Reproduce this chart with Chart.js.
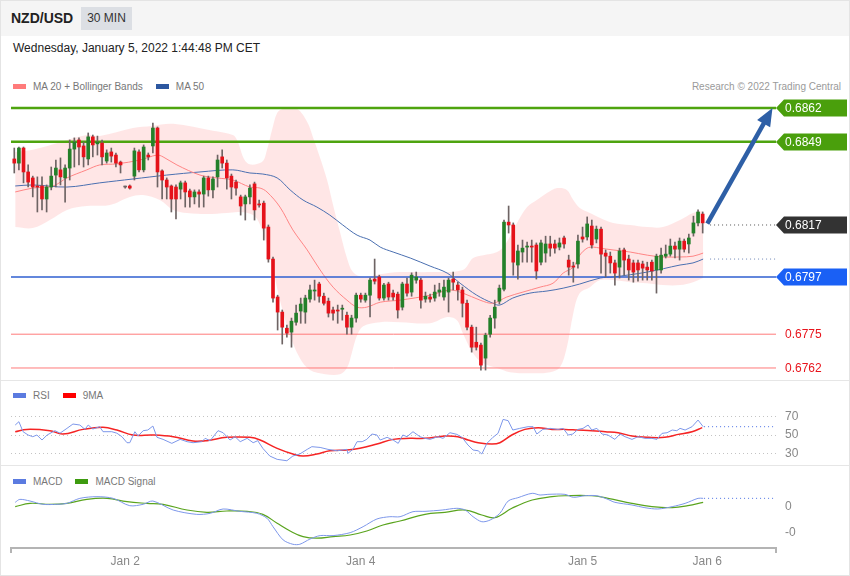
<!DOCTYPE html>
<html>
<head>
<meta charset="utf-8">
<title>NZD/USD 30 MIN</title>
<script src="https://cdn.jsdelivr.net/npm/chart.js@4.4.1/dist/chart.umd.min.js"></script>
<style>
  body { margin: 0; width: 850px; height: 576px; position: relative; overflow: hidden;
         font-family: "Liberation Sans", Arial, sans-serif; background: #fff; }
  #frame { position: absolute; left: 0; top: 0; width: 848px; height: 574px; border: 1px solid #e4e4e4; }
  #head { position: absolute; left: 1px; top: 1px; width: 848px; height: 35px; background: #f5f5f5; }
  #pair { position: absolute; left: 11px; top: 10px; font-size: 14px; font-weight: bold; color: #222; }
  #tf { position: absolute; left: 81px; top: 7px; width: 51px; height: 23px; line-height: 23px; text-align: center;
        background: #dcdfe4; font-size: 12px; color: #333; }
  #date { position: absolute; left: 13px; top: 41px; font-size: 12px; color: #222; }
  .legend { position: absolute; left: 13px; font-size: 10px; color: #777; white-space: nowrap; }
  .legend span.sw { display: inline-block; width: 13px; height: 5px; vertical-align: middle; margin-right: 7px; position: relative; top: -1px; }
  .legend span.lb { margin-right: 13px; }
  #credit { position: absolute; right: 9px; top: 81px; font-size: 10px; color: #9a9a9a; }
  .sep { position: absolute; left: 1px; width: 848px; height: 1px; background: #e6e6e6; }
  canvas { position: absolute; left: 0; }
</style>
</head>
<body>
<div id="frame"></div>
<div id="head"></div>
<div id="pair">NZD/USD</div>
<div id="tf">30 MIN</div>
<div id="date">Wednesday, January 5, 2022 1:44:48 PM CET</div>
<div class="legend" style="top:81px"><span class="sw" style="background:#ff7b7b"></span><span class="lb">MA 20 + Bollinger Bands</span><span class="sw" style="background:#2c57a0"></span><span>MA 50</span></div>
<div id="credit">Research © 2022 Trading Central</div>
<canvas id="price-chart" width="850" height="320" style="top:60px"></canvas>
<div class="sep" style="top:380px"></div>
<div class="legend" style="top:390px"><span class="sw" style="background:#5b7be0"></span><span class="lb">RSI</span><span class="sw" style="background:#ff0000"></span><span>9MA</span></div>
<canvas id="rsi-chart" width="850" height="84" style="top:381px"></canvas>
<div class="sep" style="top:465px"></div>
<div class="legend" style="top:476px"><span class="sw" style="background:#5b7be0"></span><span class="lb">MACD</span><span class="sw" style="background:#3d9b0f"></span><span>MACD Signal</span></div>
<canvas id="macd-chart" width="850" height="110" style="top:466px"></canvas>

<script>
(function() {
  'use strict';

  // 30 minute candles, oldest first
  const opens = [
    0.68424, 0.68408, 0.68466, 0.68374, 0.68351, 0.68320, 0.68320, 0.68270, 0.68316, 0.68362,
    0.68382, 0.68351, 0.68389, 0.68462, 0.68497, 0.68474, 0.68424, 0.68509, 0.68482, 0.68485,
    0.68416, 0.68451, 0.68439, 0.68412, 0.68316, 0.68320, 0.68358, 0.68451, 0.68382, 0.68439,
    0.68474, 0.68543, 0.68378, 0.68343, 0.68320, 0.68316, 0.68308, 0.68332, 0.68301, 0.68278,
    0.68297, 0.68289, 0.68351, 0.68305, 0.68355, 0.68432, 0.68408, 0.68358, 0.68335, 0.68278,
    0.68251, 0.68278, 0.68328, 0.68251, 0.68254, 0.68162, 0.68039, 0.67893, 0.67835, 0.67773,
    0.67758, 0.67796, 0.67839, 0.67835, 0.67885, 0.67916, 0.67943, 0.67896, 0.67877, 0.67843,
    0.67843, 0.67846, 0.67823, 0.67777, 0.67812, 0.67900, 0.67881, 0.67900, 0.67962, 0.67970,
    0.67889, 0.67943, 0.67908, 0.67904, 0.67854, 0.67943, 0.67912, 0.67958, 0.67958, 0.67885,
    0.67893, 0.67889, 0.67912, 0.67893, 0.67912, 0.67962, 0.67939, 0.67920, 0.67869, 0.67777,
    0.67719, 0.67708, 0.67658, 0.67750, 0.67812, 0.67877, 0.67923, 0.68181, 0.68170, 0.68016,
    0.68066, 0.68085, 0.68089, 0.68093, 0.68027, 0.68062, 0.68097, 0.68097, 0.68085, 0.68120,
    0.68035, 0.68012, 0.68020, 0.68124, 0.68124, 0.68166, 0.68116, 0.68154, 0.68062, 0.68050,
    0.68024, 0.68008, 0.68074, 0.68039, 0.68024, 0.68024, 0.68020, 0.68008, 0.68027, 0.67997,
    0.67997, 0.68050, 0.68058, 0.68089, 0.68077, 0.68108, 0.68097, 0.68139, 0.68178, 0.68212
  ];
  const highs = [
    0.68466, 0.68470, 0.68470, 0.68401, 0.68358, 0.68355, 0.68355, 0.68324, 0.68393, 0.68420,
    0.68428, 0.68401, 0.68497, 0.68505, 0.68505, 0.68489, 0.68524, 0.68516, 0.68512, 0.68497,
    0.68459, 0.68466, 0.68447, 0.68416, 0.68320, 0.68324, 0.68466, 0.68459, 0.68478, 0.68447,
    0.68562, 0.68547, 0.68382, 0.68351, 0.68324, 0.68324, 0.68339, 0.68339, 0.68308, 0.68305,
    0.68305, 0.68358, 0.68358, 0.68355, 0.68439, 0.68459, 0.68420, 0.68366, 0.68343, 0.68285,
    0.68285, 0.68324, 0.68335, 0.68266, 0.68262, 0.68170, 0.68047, 0.67900, 0.67843, 0.67785,
    0.67812, 0.67862, 0.67889, 0.67900, 0.67939, 0.67958, 0.67950, 0.67908, 0.67889, 0.67854,
    0.67862, 0.67862, 0.67835, 0.67823, 0.67908, 0.67908, 0.67908, 0.67966, 0.68039, 0.67977,
    0.67946, 0.67950, 0.67920, 0.67912, 0.67950, 0.67966, 0.67986, 0.67989, 0.67966, 0.67912,
    0.67904, 0.67939, 0.67946, 0.67958, 0.67966, 0.67989, 0.67950, 0.67931, 0.67881, 0.67785,
    0.67777, 0.67716, 0.67754, 0.67823, 0.67881, 0.67939, 0.68189, 0.68243, 0.68178, 0.68093,
    0.68112, 0.68104, 0.68112, 0.68101, 0.68112, 0.68127, 0.68127, 0.68112, 0.68120, 0.68127,
    0.68054, 0.68027, 0.68131, 0.68162, 0.68201, 0.68189, 0.68166, 0.68162, 0.68074, 0.68066,
    0.68035, 0.68081, 0.68081, 0.68054, 0.68035, 0.68035, 0.68031, 0.68027, 0.68035, 0.68058,
    0.68081, 0.68093, 0.68116, 0.68104, 0.68120, 0.68116, 0.68135, 0.68204, 0.68228, 0.68220
  ];
  const lows = [
    0.68370, 0.68382, 0.68332, 0.68316, 0.68278, 0.68220, 0.68228, 0.68220, 0.68305, 0.68316,
    0.68324, 0.68258, 0.68343, 0.68393, 0.68401, 0.68393, 0.68401, 0.68432, 0.68439, 0.68401,
    0.68408, 0.68412, 0.68393, 0.68370, 0.68312, 0.68308, 0.68343, 0.68374, 0.68374, 0.68420,
    0.68447, 0.68316, 0.68270, 0.68270, 0.68220, 0.68193, 0.68270, 0.68239, 0.68239, 0.68251,
    0.68239, 0.68239, 0.68281, 0.68274, 0.68316, 0.68389, 0.68308, 0.68270, 0.68285, 0.68208,
    0.68189, 0.68251, 0.68189, 0.68239, 0.68112, 0.68027, 0.67873, 0.67766, 0.67712, 0.67739,
    0.67700, 0.67785, 0.67792, 0.67792, 0.67873, 0.67881, 0.67873, 0.67862, 0.67816, 0.67804,
    0.67792, 0.67804, 0.67750, 0.67750, 0.67796, 0.67873, 0.67873, 0.67816, 0.67943, 0.67881,
    0.67881, 0.67881, 0.67881, 0.67812, 0.67843, 0.67896, 0.67896, 0.67946, 0.67850, 0.67873,
    0.67873, 0.67877, 0.67896, 0.67881, 0.67835, 0.67920, 0.67881, 0.67816, 0.67766, 0.67681,
    0.67689, 0.67612, 0.67612, 0.67739, 0.67773, 0.67866, 0.67916, 0.68139, 0.67977, 0.67962,
    0.68027, 0.68027, 0.68027, 0.67962, 0.68016, 0.68027, 0.68050, 0.68062, 0.68074, 0.68081,
    0.67977, 0.67950, 0.68004, 0.68104, 0.68112, 0.68081, 0.68101, 0.67985, 0.67970, 0.67985,
    0.67939, 0.67966, 0.67977, 0.67958, 0.67950, 0.67954, 0.67958, 0.67958, 0.67958, 0.67908,
    0.67985, 0.68043, 0.68050, 0.68043, 0.68035, 0.68066, 0.68062, 0.68127, 0.68166, 0.68139
  ];
  const closes = [
    0.68408, 0.68466, 0.68374, 0.68335, 0.68316, 0.68316, 0.68270, 0.68316, 0.68358, 0.68389,
    0.68355, 0.68389, 0.68462, 0.68489, 0.68470, 0.68432, 0.68509, 0.68478, 0.68489, 0.68432,
    0.68447, 0.68435, 0.68408, 0.68401, 0.68316, 0.68312, 0.68455, 0.68382, 0.68470, 0.68432,
    0.68543, 0.68374, 0.68343, 0.68316, 0.68270, 0.68270, 0.68332, 0.68297, 0.68278, 0.68297,
    0.68289, 0.68351, 0.68305, 0.68347, 0.68420, 0.68408, 0.68351, 0.68316, 0.68312, 0.68243,
    0.68278, 0.68312, 0.68228, 0.68247, 0.68158, 0.68039, 0.67889, 0.67835, 0.67777, 0.67754,
    0.67800, 0.67831, 0.67866, 0.67889, 0.67920, 0.67920, 0.67896, 0.67869, 0.67831, 0.67831,
    0.67839, 0.67850, 0.67777, 0.67812, 0.67900, 0.67885, 0.67900, 0.67958, 0.67954, 0.67889,
    0.67939, 0.67893, 0.67893, 0.67843, 0.67943, 0.67908, 0.67977, 0.67970, 0.67881, 0.67896,
    0.67885, 0.67912, 0.67920, 0.67931, 0.67958, 0.67950, 0.67920, 0.67869, 0.67777, 0.67700,
    0.67700, 0.67631, 0.67746, 0.67812, 0.67854, 0.67927, 0.68181, 0.68170, 0.68027, 0.68070,
    0.68081, 0.68089, 0.68085, 0.67993, 0.68101, 0.68097, 0.68081, 0.68081, 0.68101, 0.68097,
    0.68008, 0.68008, 0.68108, 0.68116, 0.68174, 0.68093, 0.68154, 0.68058, 0.68050, 0.68024,
    0.67985, 0.68070, 0.68035, 0.67997, 0.67989, 0.67997, 0.68004, 0.67997, 0.67993, 0.68050,
    0.68054, 0.68058, 0.68089, 0.68077, 0.68108, 0.68077, 0.68120, 0.68178, 0.68220, 0.68178
  ];

  // Indicator lines as [candle index, value]
  const bollUpper = [
    [0.2, 0.68451], [4, 0.68459], [15.7, 0.68516], [18.5, 0.68512], [25.7, 0.68543], [29.8, 0.68551],
    [34.4, 0.68559], [43, 0.68532], [47.3, 0.68516], [48.2, 0.68497], [50.4, 0.68408], [53.6, 0.68412],
    [54.7, 0.68459], [55.8, 0.68536], [56.9, 0.68601], [58.2, 0.68616], [61.2, 0.68616], [63.4, 0.68566],
    [64.7, 0.68505], [66.2, 0.68428], [67.7, 0.68343], [69, 0.68247], [70.5, 0.68143], [72, 0.68043],
    [73.3, 0.67989], [75.5, 0.67970], [79.2, 0.67981], [83.5, 0.67989], [90, 0.67989], [97.1, 0.67997],
    [99.3, 0.68043], [101.5, 0.68054], [104.5, 0.68066], [106.2, 0.68093], [108.8, 0.68178], [111, 0.68239],
    [113.1, 0.68266], [115.3, 0.68293], [117.5, 0.68312], [119.6, 0.68305], [121, 0.68266], [122.4, 0.68235],
    [124.6, 0.68216], [126.8, 0.68197], [129.6, 0.68178], [133.3, 0.68170], [137, 0.68162], [140.4, 0.68162],
    [144.1, 0.68189], [146.9, 0.68216], [149.1, 0.68224]
  ];
  const bollLower = [
    [0.2, 0.68162], [4, 0.68158], [7.7, 0.68189], [11.4, 0.68228], [15.7, 0.68243], [20.7, 0.68247],
    [25, 0.68278], [27.9, 0.68285], [31.5, 0.68266], [34.4, 0.68228], [37.4, 0.68216], [41.7, 0.68212],
    [46, 0.68216], [48.8, 0.68220], [51.7, 0.68208], [53.2, 0.68170], [55.3, 0.68054], [57.5, 0.67881],
    [59.7, 0.67746], [61.8, 0.67658], [64, 0.67612], [67.3, 0.67596], [70.5, 0.67596], [72, 0.67620],
    [73.1, 0.67681], [74.2, 0.67746], [75.5, 0.67781], [79.2, 0.67796], [83.5, 0.67796], [90, 0.67792],
    [93.7, 0.67816], [95.8, 0.67804], [97.1, 0.67754], [99.3, 0.67677], [101.5, 0.67638], [104.5, 0.67620],
    [107.3, 0.67604], [111.6, 0.67600], [116, 0.67604], [118.1, 0.67623], [119.6, 0.67700], [121, 0.67831],
    [122.4, 0.67908], [124.6, 0.67931], [126.8, 0.67958], [129.6, 0.67958], [133.3, 0.67950], [137, 0.67946],
    [140.4, 0.67939], [144.1, 0.67939], [146.9, 0.67950], [149.1, 0.67966]
  ];
  const ma20 = [
    [0.2, 0.68297], [4, 0.68312], [8.4, 0.68320], [11.4, 0.68351], [15.7, 0.68382], [18.5, 0.68401],
    [22.2, 0.68405], [27.2, 0.68420], [30.9, 0.68439], [32.2, 0.68432], [35.2, 0.68401], [40.2, 0.68362],
    [43.9, 0.68351], [47.3, 0.68343], [51, 0.68316], [53.2, 0.68312], [54.7, 0.68297], [57.5, 0.68239],
    [60.3, 0.68151], [63.4, 0.68074], [66.2, 0.67997], [69, 0.67931], [72, 0.67881], [74.2, 0.67854],
    [76.3, 0.67854], [79.2, 0.67873], [83.5, 0.67881], [90, 0.67900], [94.3, 0.67920], [97.1, 0.67908],
    [100.8, 0.67881], [103.6, 0.67869], [106.6, 0.67893], [110.1, 0.67912], [113.8, 0.67931], [116.6, 0.67946],
    [118.8, 0.67985], [121, 0.68008], [122.4, 0.68054], [124, 0.68081], [125.3, 0.68085], [126.8, 0.68081],
    [129.6, 0.68074], [133.3, 0.68066], [137, 0.68054], [140.4, 0.68047], [144.1, 0.68047], [146.9, 0.68050],
    [149.1, 0.68062]
  ];
  const ma50 = [
    [0.2, 0.68320], [4, 0.68324], [11.4, 0.68316], [18.5, 0.68332], [25.7, 0.68347], [33, 0.68362],
    [40.2, 0.68374], [47.3, 0.68382], [51, 0.68370], [53.8, 0.68366], [56.9, 0.68351], [59.7, 0.68305],
    [62.5, 0.68266], [65.5, 0.68239], [68.3, 0.68208], [71.1, 0.68170], [74.2, 0.68131], [77, 0.68112],
    [79.2, 0.68085], [82, 0.68066], [85.7, 0.68043], [90, 0.68012], [93.7, 0.67985], [96.5, 0.67946],
    [100.1, 0.67900], [103.6, 0.67869], [105.1, 0.67862], [107.9, 0.67889], [111.6, 0.67908], [115.3, 0.67916],
    [118.8, 0.67927], [122.4, 0.67943], [126.8, 0.67966], [129.6, 0.67970], [137, 0.67989], [144.1, 0.68016],
    [146.9, 0.68024], [149.1, 0.68039]
  ];

  // Support / resistance levels shown at the right edge
  const levels = [0.6862, 0.6849, 0.6817, 0.6797, 0.6775, 0.6762];
  // Projection arrow: [candle index, price] start and head base
  const arrowPath = [[150, 0.68175], [162.3, 0.68563]];

  const rsi = [
    [0.2, 60.8], [1, 64.4], [1.9, 53.6], [3, 50], [4, 48.2], [4.9, 50], [6, 44.6], [7.1, 50], [8.8, 54.7],
    [9.9, 52], [11.4, 57.2], [12.7, 61.9], [14.2, 60.8], [15.3, 56.1], [16, 60.8], [17, 56.5], [18.5, 59],
    [19.2, 53.6], [21.1, 53.6], [22.2, 52], [23.3, 48.2], [24.4, 41.7], [25, 41.7], [26.1, 53.6], [26.8, 48.9],
    [27.9, 54.7], [28.9, 55.4], [30, 59.7], [30.9, 47.5], [32.2, 45.3], [34.1, 41], [35.9, 45.3], [37.4, 42.8],
    [38.7, 41.7], [40.6, 42.8], [41.3, 46.4], [42.4, 43.9], [44.1, 54.7], [45.2, 52.5], [46.7, 44.6], [47.8, 48.2],
    [48.9, 42.8], [50.4, 46.4], [51.7, 41.7], [52.7, 43.9], [53.8, 35.6], [55.3, 27.3], [56.9, 23.7], [59, 22.2],
    [60.3, 27.3], [61.8, 29.5], [63.4, 34.5], [64.4, 37.4], [66.2, 36.6], [67.9, 34.5], [69.9, 33], [72, 34.5],
    [72.2, 30.2], [73.3, 34.5], [74.2, 42.8], [75.3, 42.8], [76.3, 45.3], [77.4, 51.1], [78.5, 50], [79.2, 44.6],
    [80.7, 47.5], [82, 44.6], [83.1, 41], [84.1, 50], [85, 48.2], [86.3, 53.6], [87.8, 48.2], [88.9, 46.4],
    [90, 45.3], [91.7, 48.2], [92.8, 46.4], [94.3, 52.5], [95.8, 50.7], [96.9, 47.5], [98.2, 39.2], [99.3, 33.8],
    [100.4, 33], [101.2, 29.5], [102.3, 41], [103.6, 47.5], [104.7, 51.8], [105.8, 66.9], [106.9, 65.5],
    [107.9, 55.4], [109.4, 57.2], [111.2, 59], [112.3, 59], [113.1, 51.1], [114.4, 56.1], [116, 57.2],
    [117.7, 56.1], [118.8, 57.2], [119.9, 50], [120.9, 51.1], [122, 56.1], [123.1, 57.2], [124.2, 60.8],
    [125, 55.4], [126.1, 57.2], [127.2, 51.1], [128.5, 50], [130, 45.3], [131.1, 51.1], [132.2, 48.2],
    [133.7, 45.3], [135, 48.2], [136.5, 46.4], [138, 46.4], [139.1, 45.3], [140.2, 51.8], [141.3, 52.5],
    [142.4, 55.4], [143.4, 54.7], [144.1, 57.2], [145.2, 55.4], [146.7, 59], [148, 66.2], [149.1, 59]
  ];
  const rsiMa9 = [
    [0.2, 53.6], [2.7, 56.1], [7.7, 54.7], [10.5, 51.1], [14.9, 56.1], [19.2, 58.3], [22.2, 55.4], [25.7, 50],
    [30, 50], [34.4, 48.2], [38.7, 43.5], [41.7, 43.9], [46, 47.5], [51, 47.5], [53.2, 44.6], [56.9, 35.6],
    [60.3, 29.5], [62.5, 27.3], [65.5, 29.5], [68.3, 33], [72, 33.8], [74.8, 35.6], [78.5, 40.3], [82, 45.3],
    [85.7, 46.4], [88.9, 46.4], [93.2, 48.9], [96, 48.2], [98.2, 44.6], [100.4, 41.7], [103.4, 40.3],
    [105.1, 41.7], [107.7, 50], [110.5, 56.1], [113.4, 58], [116.4, 56.1], [119.2, 56.1], [122, 55.4],
    [125, 54.7], [127.9, 53.6], [130.7, 52.5], [133.7, 48.9], [137.2, 47.5], [140.8, 47.5], [143.7, 50.7],
    [146.7, 53.6], [148.9, 58]
  ];
  const rsiTicks = [30, 50, 70];

  // MACD in units of 0.0001
  const macd = [
    [0.2, 0.54], [1.2, 0.88], [3.4, 0.69], [6.2, 0.31], [9.2, 0.31], [11.4, 0.42], [14.2, 1.0], [17.9, 1.19],
    [21.4, 1.0], [25, 0.15], [27.9, 0.31], [30, 0.69], [34.4, -0.35], [39.5, -0.85], [42.4, -0.73], [45.2, -0.23],
    [48.8, -0.5], [52.5, -0.73], [54.7, -1.3], [56, -2.27], [58.2, -3.8], [60.3, -4.3], [61.8, -4.3], [64, -3.7],
    [66.2, -3.3], [69, -3.3], [72.7, -2.96], [75.5, -2.27], [78.5, -1.38], [81.3, -1.12], [83.5, -1.12],
    [86.3, -0.54], [88.9, -0.5], [92.6, -0.35], [95.8, -0.15], [97.6, -0.35], [99.3, -1.12], [101.2, -1.7],
    [103, -1.5], [105.1, -0.73], [106.9, 0.69], [109, 1.07], [112.1, 1.58], [113.8, 1.38], [115.5, 1.46],
    [119.2, 1.46], [121, 1.12], [123.5, 1.3], [126.1, 1.3], [128.3, 0.92], [130, 0.54], [133.7, 0.23],
    [136.5, -0.08], [139.3, -0.23], [142.4, 0.04], [145.2, 0.42], [148, 1.0], [149.1, 1.0]
  ];
  const macdSignal = [
    [0.2, 0.04], [3.4, 0.42], [7.7, 0.31], [11.4, 0.42], [15.7, 0.88], [20.1, 1.0], [24.4, 0.61], [28.7, 0.42],
    [32.2, 0.31], [37.4, -0.35], [41.7, -0.61], [46, -0.46], [50.4, -0.5], [53.8, -0.85], [56.9, -1.88],
    [59.7, -2.77], [62.5, -3.42], [65.5, -3.6], [69, -3.42], [72.7, -3.23], [76.3, -2.77], [79.8, -2.08],
    [83.5, -1.62], [88.9, -0.85], [93.2, -0.61], [97.6, -0.35], [101.2, -0.92], [104, -1.23], [107.7, -0.15],
    [112.1, 0.81], [116.4, 1.19], [119.2, 1.3], [125, 1.3], [128.5, 1.0], [133.7, 0.42], [138, 0.04],
    [142.4, -0.08], [145.8, 0.15], [149.1, 0.54]
  ];
  const macdTicks = [-3, 0];

  // Date axis
  const dateTickIndex = [24, 75, 123, 150];
  const dateTickLabels = ['Jan 2', 'Jan 4', 'Jan 5', 'Jan 6'];

  // Shared horizontal window (candle index) so all three panels line up
  const X_MIN = -0.71;
  const X_MAX = 164.87;

  const FONT = '"Liberation Sans", Arial, sans-serif';
  const UP = '#24802a';
  const DOWN = '#e5121a';
  const WICK = '#6e6464';
  const ARROW = '#2e5fa6';

  const levelStyle = [
    { line: '#4ea40f', width: 2.5, box: '#4a9f0c', text: '#ffffff' },
    { line: '#4ea40f', width: 2.5, box: '#4a9f0c', text: '#ffffff' },
    { line: null, box: '#333333', text: '#ffffff' },
    { line: '#2f5fd0', width: 1.5, box: '#1a60f5', text: '#ffffff' },
    { line: '#ff7a7a', width: 1, box: null, text: '#e8141c' },
    { line: '#ff7a7a', width: 1, box: null, text: '#e8141c' }
  ];

  const toXY = arr => arr.map(p => ({ x: p[0], y: p[1] }));
  const flat = (v, from) => [{ x: from, y: v }, { x: X_MAX, y: v }];

  function hiddenX() {
    return { type: 'linear', min: X_MIN, max: X_MAX, offset: false, display: false };
  }

  function lineSet(data, color, width, extra) {
    return Object.assign({
      type: 'line',
      data: data,
      borderColor: color,
      borderWidth: width,
      pointRadius: 0,
      tension: 0.35,
      fill: false
    }, extra || {});
  }

  // Labels at the right edge and the arrow head
  const priceOverlay = {
    id: 'priceOverlay',
    afterDraw(chart) {
      const { ctx, chartArea, scales } = chart;
      ctx.save();
      ctx.font = '12px ' + FONT;
      ctx.textBaseline = 'middle';
      levels.forEach((v, i) => {
        const st = levelStyle[i];
        const y = Math.round(scales.y.getPixelForValue(v));
        const x0 = chartArea.right;
        if (st.box) {
          ctx.fillStyle = st.box;
          ctx.beginPath();
          ctx.moveTo(x0, y);
          ctx.lineTo(x0 + 8, y - 8.5);
          ctx.lineTo(847, y - 8.5);
          ctx.lineTo(847, y + 8.5);
          ctx.lineTo(x0 + 8, y + 8.5);
          ctx.closePath();
          ctx.fill();
        }
        ctx.fillStyle = st.text;
        ctx.fillText(v.toFixed(4), x0 + 9, y + 1);
      });

      const meta = chart.getDatasetMeta(chart.data.datasets.findIndex(d => d.label === 'arrow'));
      const p0 = meta.data[0];
      const p1 = meta.data[1];
      const ang = Math.atan2(p1.y - p0.y, p1.x - p0.x);
      ctx.translate(p1.x, p1.y);
      ctx.rotate(ang);
      ctx.fillStyle = ARROW;
      ctx.beginPath();
      ctx.moveTo(17, 0);
      ctx.lineTo(-1, -7.5);
      ctx.lineTo(-1, 7.5);
      ctx.closePath();
      ctx.fill();
      ctx.restore();
    }
  };

  function initPriceChart() {
    const datasets = [
      lineSet(toXY(bollUpper), 'rgba(0,0,0,0)', 0, {
        fill: '+1', backgroundColor: 'rgba(255, 150, 150, 0.24)', order: 20
      }),
      lineSet(toXY(bollLower), 'rgba(0,0,0,0)', 0, { order: 20 }),
      lineSet(toXY(ma20), '#ff8585', 1, { order: 15 }),
      lineSet(toXY(ma50), '#4a6fb0', 1, { order: 15 })
    ];

    levels.forEach((v, i) => {
      const st = levelStyle[i];
      if (!st.line) return;
      datasets.push(lineSet(flat(v, X_MIN), st.line, st.width, { tension: 0, order: 12 }));
    });

    // dotted guides from the last candle to the edge
    datasets.push(lineSet(flat(levels[2], 150.6), '#555', 1, { tension: 0, borderDash: [1, 3], order: 12 }));
    datasets.push(lineSet(flat(ma50[ma50.length - 1][1], 150.6), '#6f86b8', 1, { tension: 0, borderDash: [1, 3], order: 12 }));

    datasets.push({
      type: 'bar',
      data: lows.map((l, i) => ({ x: i, y: [l, highs[i]] })),
      backgroundColor: WICK,
      barThickness: 1,
      grouped: false,
      minBarLength: 1,
      order: 6
    });
    datasets.push({
      type: 'bar',
      data: opens.map((o, i) => ({ x: i, y: [o, closes[i]] })),
      backgroundColor: c => closes[c.dataIndex] > opens[c.dataIndex] ? UP :
        (closes[c.dataIndex] === opens[c.dataIndex] ? WICK : DOWN),
      barThickness: 3,
      grouped: false,
      minBarLength: 1,
      order: 5
    });

    datasets.push(lineSet(toXY(arrowPath), ARROW, 4.5, { label: 'arrow', tension: 0, order: 1, clip: false }));

    new Chart(document.getElementById('price-chart'), {
      type: 'bar',
      data: { datasets: datasets },
      options: {
        responsive: false,
        animation: false,
        events: [],
        layout: { padding: { left: 11, right: 74, top: 0, bottom: 0 } },
        plugins: { legend: { display: false }, tooltip: { enabled: false } },
        scales: {
          x: hiddenX(),
          y: { type: 'linear', min: 0.675738, max: 0.688046, display: false }
        }
      },
      plugins: [priceOverlay]
    });
  }

  function rightAxis(min, max, ticks, callback, showGrid) {
    return {
      type: 'linear',
      position: 'right',
      min: min,
      max: max,
      afterBuildTicks: scale => { scale.ticks = ticks.map(v => ({ value: v })); },
      afterFit: scale => {
        scale.width = 74;
        scale.paddingTop = 0;
        scale.paddingBottom = 0;
      },
      grid: { display: showGrid, drawTicks: false, color: '#c4c4c4', lineWidth: 1 },
      border: { display: false, dash: [1, 3] },
      ticks: { padding: 9, color: '#888', font: { size: 12, family: FONT }, callback: callback }
    };
  }

  function initRsiChart() {
    new Chart(document.getElementById('rsi-chart'), {
      type: 'line',
      data: {
        datasets: [
          lineSet(toXY(rsi), '#7d97ea', 1, { tension: 0 }),
          lineSet(toXY(rsiMa9), '#f52424', 1.5, { tension: 0.4 }),
          lineSet(flat(rsi[rsi.length - 1][1], 149.3), '#4d72e6', 1, { tension: 0, borderDash: [1, 3] })
        ]
      },
      options: {
        responsive: false,
        animation: false,
        events: [],
        layout: { padding: { left: 11, right: 0, top: 0, bottom: 0 } },
        plugins: { legend: { display: false }, tooltip: { enabled: false } },
        scales: {
          x: hiddenX(),
          y: rightAxis(17.6, 108.4, rsiTicks, v => String(v), true)
        }
      }
    });
  }

  function initMacdChart() {
    const xTicks = [X_MIN].concat(dateTickIndex, [X_MAX]);
    new Chart(document.getElementById('macd-chart'), {
      type: 'line',
      data: {
        datasets: [
          lineSet(toXY(macd), '#7d97ea', 1, { tension: 0.3 }),
          lineSet(toXY(macdSignal), '#5aa41e', 1.2, { tension: 0.4 }),
          lineSet(flat(macd[macd.length - 1][1], 149.3), '#4d72e6', 1, { tension: 0, borderDash: [1, 3] })
        ]
      },
      options: {
        responsive: false,
        animation: false,
        events: [],
        layout: { padding: { left: 11, right: 0, top: 0, bottom: 0 } },
        plugins: { legend: { display: false }, tooltip: { enabled: false } },
        scales: {
          x: {
            type: 'linear',
            min: X_MIN,
            max: X_MAX,
            offset: false,
            afterBuildTicks: scale => { scale.ticks = xTicks.map(v => ({ value: v })); },
            afterFit: scale => {
              scale.height = 28;
              scale.paddingLeft = 0;
              scale.paddingRight = 0;
            },
            grid: {
              drawOnChartArea: false,
              drawTicks: true,
              tickLength: 5,
              lineWidth: 2,
              color: c => (c.index === 0 || c.index === xTicks.length - 1) ? '#b4b4b4' : 'rgba(0,0,0,0)'
            },
            border: { display: true, color: '#b4b4b4', width: 2 },
            ticks: {
              autoSkip: false,
              maxRotation: 0,
              padding: 1,
              color: '#888',
              font: { size: 12, family: FONT },
              callback: (v, i) => {
                const k = dateTickIndex.indexOf(v);
                return k >= 0 ? dateTickLabels[k] : '';
              }
            }
          },
          y: rightAxis(-4.73, 4.73, macdTicks, v => (v / 10000).toFixed(0), false)
        }
      }
    });
  }

  function initCharts() {
    if (typeof Chart === 'undefined') {
      console.error('Chart.js not loaded');
      return;
    }
    initPriceChart();
    initRsiChart();
    initMacdChart();
  }

  initCharts();
})();
</script>
</body>
</html>
